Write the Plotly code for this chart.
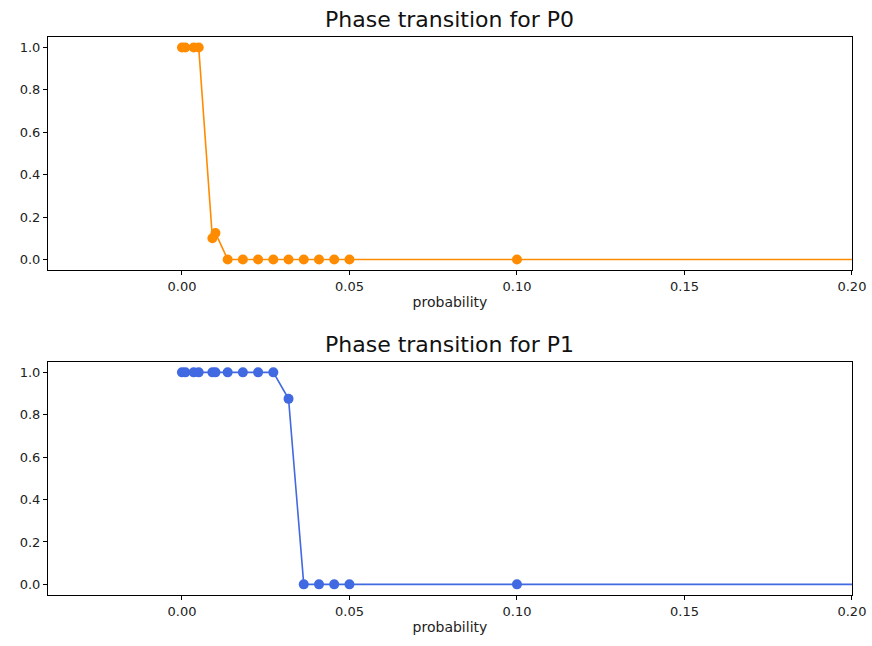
import plotly.graph_objects as go

# Sampled probabilities (shared by both panels); the last one lies past the visible range
probability = [0.0, 0.001, 0.0035, 0.005, 0.00909, 0.01, 0.01364, 0.01818,
               0.02273, 0.02727, 0.03182, 0.03636, 0.04091, 0.04545, 0.05, 0.1, 0.3]

# Fraction of runs in phase P0 / P1 at each probability
p0_values = [1.0, 1.0, 1.0, 1.0, 0.10, 0.125, 0.0, 0.0,
             0.0, 0.0, 0.0, 0.0, 0.0, 0.0, 0.0, 0.0, 0.0]
p1_values = [1.0, 1.0, 1.0, 1.0, 1.0, 1.0, 1.0, 1.0,
             1.0, 1.0, 0.875, 0.0, 0.0, 0.0, 0.0, 0.0, 0.0]

titles = ["Phase transition for P0", "Phase transition for P1"]
colors = ["#FF8C00", "#4169E1"]
x_ticks = [0.0, 0.05, 0.10, 0.15, 0.20]
y_ticks = [0.0, 0.2, 0.4, 0.6, 0.8, 1.0]

FONT = "DejaVu Sans, sans-serif"
X_DOMAIN = [0.055, 0.977]

fig = go.Figure()

domains_y = [[0.582, 0.943], [0.079, 0.440]]
series = [p0_values, p1_values]

for i, (vals, col, dom) in enumerate(zip(series, colors, domains_y)):
    n = "" if i == 0 else str(i + 1)
    fig.add_trace(go.Scatter(
        x=probability, y=vals, mode="lines+markers",
        line=dict(color=col, width=1.6),
        marker=dict(color=col, size=10),
        xaxis="x" + n, yaxis="y" + n, showlegend=False,
    ))
    axis_common = dict(
        showline=True, linecolor="black", linewidth=1, mirror=True,
        ticks="outside", ticklen=4, tickcolor="black", tickwidth=1,
        showgrid=False, zeroline=False, automargin=False,
        tickfont=dict(family=FONT, size=13, color="#222"),
    )
    fig.layout["xaxis" + n] = dict(
        axis_common, domain=X_DOMAIN, range=[-0.04, 0.2],
        tickvals=x_ticks, tickformat=".2f", anchor="y" + n,
        title=dict(text="probability", standoff=4,
                   font=dict(family=FONT, size=14, color="#222")),
    )
    fig.layout["yaxis" + n] = dict(
        axis_common, domain=dom, range=[-0.05, 1.05],
        tickvals=y_ticks, tickformat=".1f", anchor="x" + n,
    )
    fig.add_annotation(
        text=titles[i], xref="paper", yref="paper",
        x=sum(X_DOMAIN) / 2, y=dom[1], yanchor="bottom", yshift=3,
        showarrow=False, font=dict(family=FONT, size=22, color="#111"),
    )

fig.update_layout(
    width=872, height=646,
    margin=dict(l=0, r=0, t=0, b=0),
    paper_bgcolor="white", plot_bgcolor="white",
)

fig.write_html("out.html")
